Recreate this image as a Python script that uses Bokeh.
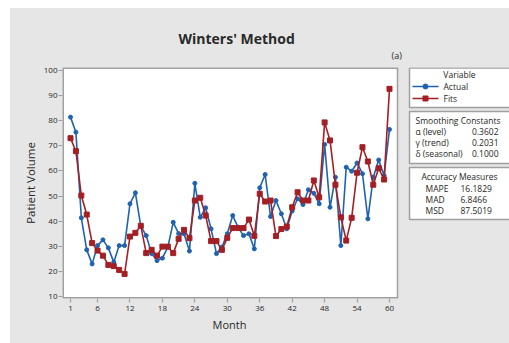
from bokeh.plotting import figure
from bokeh.models import Range1d, FixedTicker, Title
from bokeh.core.properties import value
from bokeh.embed import file_html
from bokeh.resources import INLINE

months = list(range(1, 61))
actual = [81.5, 75.5, 41.3, 28.5, 22.9, 30.2, 32.5, 29.3, 23.6, 30.2,
          30.2, 46.9, 51.3, 38.0, 34.2, 27.0, 24.2, 25.2, 29.6, 39.5,
          35.0, 34.9, 28.0, 55.1, 41.5, 45.3, 36.9, 27.0, 29.6, 34.9,
          42.2, 37.5, 34.2, 34.9, 28.9, 53.3, 58.6, 41.8, 48.2, 42.9,
          36.9, 44.0, 48.9, 46.6, 52.5, 51.1, 46.9, 70.6, 45.5, 57.5,
          30.2, 61.5, 59.9, 63.2, 58.9, 40.9, 57.5, 64.4, 58.2, 76.6]
fits = [73.1, 67.9, 50.2, 42.6, 31.2, 28.2, 26.2, 22.5, 22.0, 20.5,
        18.9, 33.8, 35.3, 38.1, 27.2, 28.5, 26.2, 29.8, 29.8, 27.2,
        32.9, 36.5, 33.2, 48.2, 49.3, 42.2, 32.0, 32.0, 28.5, 33.3,
        37.2, 37.2, 37.2, 40.6, 34.1, 50.9, 47.8, 48.2, 34.0, 36.8,
        37.8, 45.5, 51.5, 48.2, 48.2, 56.2, 49.5, 79.4, 72.2, 54.5,
        41.5, 32.2, 41.3, 59.3, 69.5, 63.8, 54.5, 61.1, 56.6, 92.8]
x_ticks = [1, 6, 12, 18, 24, 30, 36, 42, 48, 54, 60]
y_ticks = [10, 20, 30, 40, 50, 60, 70, 80, 90, 100]
series_names = ["Actual", "Fits"]
smoothing_names = ["α (level)", "γ (trend)", "δ (seasonal)"]
smoothing_vals = ["0.3602", "0.2031", "0.1000"]
accuracy_names = ["MAPE", "MAD", "MSD"]
accuracy_vals = ["16.1829", "6.8466", "87.5019"]

BG = "#e6e6e6"
BLUE = "#1f62ad"
RED = "#a31f24"
FRAME = "#a0a0a0"
FONT = "Open Sans"
TXT = "#262626"

# layout geometry (pixels within the figure canvas)
W, H = 499, 335
LEFT, TOP, FH = 52, 59, 231
X0, X1 = -0.48, 61.48          # data range shown inside the plot box
Y0, Y1 = 9.08, 101.32
PLOT_W = 335
SX = PLOT_W / (X1 - X0)
SY = FH / (Y1 - Y0)
XEND = X0 + (W - LEFT) / SX     # frame extends under the side boxes


def dx(px):
    return X0 + (px - LEFT) / SX


def dy(py):
    return Y1 - (py - TOP) / SY


p = figure(width=W, height=H, output_backend="svg", toolbar_location=None,
           x_range=Range1d(X0, XEND), y_range=Range1d(Y0, Y1),
           min_border_left=LEFT, min_border_right=0, min_border_top=TOP,
           min_border_bottom=H - TOP - FH,
           styles={"margin-left": "10px", "margin-top": "8px", "background-color": BG})
p.border_fill_color = BG
p.background_fill_color = BG
p.outline_line_color = None
p.xgrid.visible = False
p.ygrid.visible = False

p.title.text = "Winters' Method"
p.title.align = "left"
p.title.offset = 116
p.title.text_font = FONT
p.title.text_font_size = "14px"
p.title.text_font_style = "bold"
p.title.text_color = "#2a2a2a"
p.title.standoff = -12
p.add_layout(Title(text="(a)", align="left", offset=329, standoff=11,
                   text_font=FONT, text_font_size="9px", text_font_style="normal",
                   text_color=TXT), "above")
p.add_layout(Title(text="Month", align="left", offset=150, standoff=2,
                   text_font=FONT, text_font_size="11px", text_font_style="normal",
                   text_color=TXT), "below")

p.xaxis.ticker = FixedTicker(ticks=x_ticks)
p.yaxis.ticker = FixedTicker(ticks=y_ticks)
for ax in (p.xaxis, p.yaxis):
    ax.axis_line_color = None
    ax.major_tick_line_color = FRAME
    ax.major_tick_line_width = 1.2
    ax.major_tick_in = 0
    ax.major_tick_out = 4
    ax.minor_tick_line_color = None
    ax.major_label_text_font = FONT
    ax.major_label_text_font_size = "8px"
    ax.major_label_text_color = TXT
    ax.axis_label_text_font = FONT
    ax.axis_label_text_font_size = "11.5px"
    ax.axis_label_text_font_style = "normal"
    ax.axis_label_text_color = TXT
p.yaxis.axis_label = "Patient Volume"
p.xaxis.major_label_standoff = 3
p.yaxis.major_label_standoff = 1
p.yaxis.axis_label_standoff = 3

# white plot box with grey border
p.quad(left=[X0], right=[X1], bottom=[Y0], top=[Y1], fill_color="white", line_color=None)
p.line([X1, X0, X0, X1], [Y1, Y1, Y0, Y0], line_color=FRAME, line_width=3)
p.line([X1, X1], [Y0, Y1], line_color=FRAME, line_width=1.5)

p.line(months, actual, line_color=BLUE, line_width=1.6)
p.scatter(months, actual, marker="circle", size=4, fill_color=BLUE, line_color=BLUE)
p.line(months, fits, line_color=RED, line_width=1.6)
p.scatter(months, fits, marker="square", size=5, fill_color=RED, line_color=RED)

# side boxes
p.quad(left=[dx(399)] * 3, right=[dx(506)] * 3,
       top=[dy(59.5), dy(103), dy(159)], bottom=[dy(99), dy(155), dy(211)],
       fill_color="white", line_color=FRAME, line_width=1.5)

fs = "8.5px"
tk = dict(text_font=value(FONT), text_font_size=fs, text_color=TXT, text_baseline="middle")
p.text(x=[dx(449)], y=[dy(66)], text=["Variable"], text_align="center", **tk)
p.line([dx(402), dx(428)], [dy(78), dy(78)], line_color=BLUE, line_width=1.6)
p.scatter([dx(415)], [dy(78)], marker="circle", size=5, fill_color=BLUE, line_color=BLUE)
p.line([dx(402), dx(428)], [dy(90), dy(90)], line_color=RED, line_width=1.6)
p.scatter([dx(415)], [dy(90)], marker="square", size=5, fill_color=RED, line_color=RED)
p.text(x=[dx(433)] * 2, y=[dy(78), dy(90)], text=series_names, text_align="left", **tk)

p.text(x=[dx(405)], y=[dy(112)], text=["Smoothing Constants"], text_align="left", **tk)
p.text(x=[dx(405)] * 3, y=[dy(123), dy(134), dy(145)], text=smoothing_names,
       text_align="left", **tk)
p.text(x=[dx(488)] * 3, y=[dy(123), dy(134), dy(145)], text=smoothing_vals,
       text_align="right", **tk)

p.text(x=[dx(449)], y=[dy(168)], text=["Accuracy Measures"], text_align="center", **tk)
p.text(x=[dx(415)] * 3, y=[dy(179.5), dy(190.5), dy(202)], text=accuracy_names,
       text_align="left", **tk)
p.text(x=[dx(450)] * 3, y=[dy(179.5), dy(190.5), dy(202)], text=accuracy_vals,
       text_align="left", **tk)

open("out.html", "w").write(file_html(p, INLINE))
